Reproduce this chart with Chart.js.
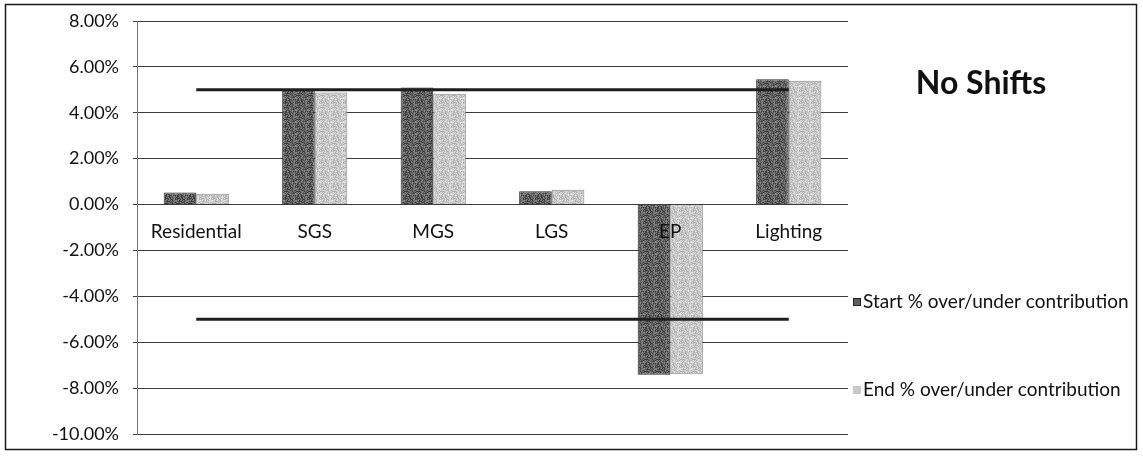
<!DOCTYPE html>
<html>
<head>
<meta charset="utf-8">
<script src="https://cdn.jsdelivr.net/npm/chart.js@4/dist/chart.umd.min.js"></script>
<style>
  html, body { margin: 0; padding: 0; background: #fff; }
  #wrap { position: relative; width: 1143px; height: 456px; }
</style>
</head>
<body>
<div id="wrap"><canvas id="c" width="1143" height="456"></canvas></div>
<script>
// Rate class categories
const categories = ['Residential', 'SGS', 'MGS', 'LGS', 'EP', 'Lighting'];
// Over/under contribution, in percent
const startContribution = [0.52, 5.02, 5.10, 0.58, -7.42, 5.46];
const endContribution   = [0.47, 4.88, 4.83, 0.65, -7.40, 5.40];
// Upper and lower tolerance band
const upperBand = [5, 5, 5, 5, 5, 5];
const lowerBand = [-5, -5, -5, -5, -5, -5];
// Y axis range
const yMin = -10;
const yMax = 8;
const yStep = 2;

const chartTitle = 'No Shifts';
const legendLabels = ['Start % over/under contribution', 'End % over/under contribution'];

const FONT = 'Lato, "Open Sans", sans-serif';

// Speckled grey fill used for the bars (fixed tile, hashed shades)
function speckle(base, spread) {
  const n = 12;
  const tile = document.createElement('canvas');
  tile.width = n; tile.height = n;
  const t = tile.getContext('2d');
  for (let y = 0; y < n; y++) {
    for (let x = 0; x < n; x++) {
      const h = ((x * 73856093) ^ (y * 19349663)) >>> 0;
      const k = (h % 7) / 6 - 0.5;
      const g = Math.max(0, Math.min(255, Math.round(base + k * spread)));
      t.fillStyle = `rgb(${g},${g},${g})`;
      t.fillRect(x, y, 1, 1);
    }
  }
  return document.getElementById('c').getContext('2d').createPattern(tile, 'repeat');
}
const darkFill = speckle(95, 90);
const lightFill = speckle(200, 60);
const darkSwatch = '#5e5e5e';
const lightSwatch = '#c9c9c9';

const sidePanel = {
  id: 'sidePanel',
  beforeDraw(chart) {
    const ctx = chart.ctx;
    ctx.save();
    ctx.fillStyle = '#fff';
    ctx.fillRect(0, 0, chart.width, chart.height);
    ctx.restore();
  },
  afterDraw(chart) {
    const ctx = chart.ctx;
    const area = chart.chartArea;
    const xs = chart.scales.x;
    const ys = chart.scales.y;
    ctx.save();
    // category labels sit just under the zero line, over the bars
    ctx.fillStyle = '#111';
    ctx.font = '19px ' + FONT;
    ctx.textAlign = 'center';
    ctx.textBaseline = 'middle';
    categories.forEach((c, i) => {
      ctx.fillText(c, xs.getPixelForValue(i), ys.getPixelForValue(0) + 27);
    });
    // outer frame
    ctx.strokeStyle = '#1a1a1a';
    ctx.lineWidth = 1.5;
    ctx.strokeRect(5.5, 4.5, 1131, 445);
    // title
    ctx.font = 'bold 32px ' + FONT;
    ctx.fillText(chartTitle, area.right + 133, 84);
    // legend
    ctx.font = '19px ' + FONT;
    ctx.textAlign = 'left';
    const rows = [
      { y: 302, fill: darkSwatch, text: legendLabels[0] },
      { y: 390, fill: lightSwatch, text: legendLabels[1] }
    ];
    rows.forEach(r => {
      ctx.fillStyle = r.fill;
      ctx.fillRect(area.right + 5, r.y - 4, 8, 8);
      if (r.fill === darkSwatch) {
        ctx.strokeStyle = '#222';
        ctx.lineWidth = 1;
        ctx.strokeRect(area.right + 5.5, r.y - 3.5, 7, 7);
      }
      ctx.fillStyle = '#111';
      ctx.fillText(r.text, area.right + 15, r.y);
    });
    ctx.restore();
  }
};

new Chart(document.getElementById('c'), {
  data: {
    labels: categories,
    datasets: [
      { type: 'line', data: upperBand, borderColor: '#1e1e1e', borderWidth: 3, pointRadius: 0, fill: false, order: 0 },
      { type: 'line', data: lowerBand, borderColor: '#1e1e1e', borderWidth: 3, pointRadius: 0, fill: false, order: 0 },
      { type: 'bar', label: legendLabels[0], data: startContribution, backgroundColor: darkFill, borderColor: '#2a2a2a', borderWidth: 1, order: 1, barPercentage: 1, categoryPercentage: 0.55 },
      { type: 'bar', label: legendLabels[1], data: endContribution, backgroundColor: lightFill, borderColor: '#8a8a8a', borderWidth: 1, order: 1, barPercentage: 1, categoryPercentage: 0.55 }
    ]
  },
  options: {
    responsive: false,
    animation: false,
    devicePixelRatio: 1,
    layout: { padding: { left: 0, right: 295, top: 21, bottom: 22 } },
    plugins: { legend: { display: false }, title: { display: false }, tooltip: { enabled: false } },
    scales: {
      x: {
        type: 'category',
        position: { y: 0 },
        offset: true,
        grid: { display: false },
        border: { display: false },
        ticks: { display: false }
      },
      y: {
        min: yMin,
        max: yMax,
        afterFit(scale) {
          scale.width = 137;
          scale.paddingTop = 0;
          scale.paddingBottom = 0;
        },
        grid: { color: '#3c3c3c', lineWidth: 1, tickLength: 4 },
        border: { color: '#777', width: 1 },
        ticks: {
          stepSize: yStep,
          color: '#111',
          font: { family: FONT, size: 18 },
          padding: 14,
          callback: v => v.toFixed(2) + '%'
        }
      }
    }
  },
  plugins: [sidePanel]
});
</script>
</body>
</html>
